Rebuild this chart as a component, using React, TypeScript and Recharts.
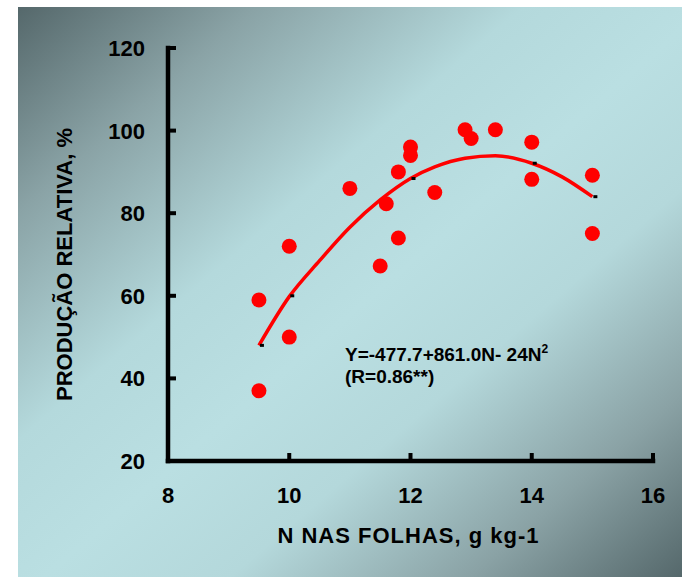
import React from 'react';
import { ComposedChart, Scatter, Line, XAxis, YAxis, Customized } from 'recharts';

// Observed points: N in leaves (g/kg) vs relative production (%)
const obsN = [9.5, 9.5, 10, 10, 11, 11.5, 11.6, 11.8, 11.8, 12, 12, 12.4, 12.9, 13, 13.4, 14, 14, 15, 15];
const obsY = [59, 37, 72, 50, 86, 67.2, 82.3, 90, 74, 96, 94, 85, 100.2, 98.1, 100.2, 97.2, 88.2, 89.2, 75.1];

// Fitted curve
const fitN = [9.5, 10, 10.5, 11, 11.5, 12, 12.4, 12.9, 13.4, 14, 14.5, 15];
const fitY = [48, 59.8, 68.5, 76.6, 83.2, 88.4, 91.2, 93.3, 93.9, 92.1, 88.8, 84];

// Small black marks left on the fitted curve
const markN = [9.5, 10, 12, 14, 15];
const markY = [48, 60, 88.4, 92.1, 84];

const xTicks = [8, 10, 12, 14, 16];
const yTicks = [20, 40, 60, 80, 100, 120];

const points = obsN.map((n, i) => ({ n, y: obsY[i] }));
const fit = fitN.map((n, i) => ({ n, y: fitY[i] }));
const marks = markN.map((n, i) => ({ n, y: markY[i] }));

const FONT = '"Liberation Sans", Arial, sans-serif';

const XTick = (props: any) => {
  const { x, y, payload } = props;
  return (
    <g>
      <line x1={x} x2={x} y1={y} y2={y - 8} stroke="#000" strokeWidth={4} />
      <text x={x} y={y + 42} textAnchor="middle" fontFamily={FONT} fontWeight="bold" fontSize={22} fill="#000">
        {payload.value}
      </text>
    </g>
  );
};

const YTick = (props: any) => {
  const { x, y, payload } = props;
  return (
    <g>
      <line x1={x} x2={x + 8} y1={y} y2={y} stroke="#000" strokeWidth={4} />
      <text x={x - 23} y={y + 8} textAnchor="end" fontFamily={FONT} fontWeight="bold" fontSize={22} fill="#000">
        {payload.value}
      </text>
    </g>
  );
};

const Dot = (props: any) => {
  const { cx, cy } = props;
  return <circle cx={cx} cy={cy} r={7.5} fill="#ff0000" />;
};

const Mark = (props: any) => {
  const { cx, cy } = props;
  return <rect x={cx + 1} y={cy - 1.5} width={4} height={3} fill="#000" />;
};

const Annotation = () => (
  <g fontFamily={FONT} fontWeight="bold" fill="#000">
    <text x={345} y={361} fontSize={19}>
      Y=-477.7+861.0N- 24N
      <tspan fontSize={12} dy={-8}>2</tspan>
    </text>
    <text x={345} y={383} fontSize={19}>(R=0.86**)</text>
  </g>
);

export default function App() {
  return (
    <div
      style={{
        position: 'absolute',
        left: 0,
        top: 0,
        width: 682,
        height: 577,
        background: '#fff',
        overflow: 'hidden',
      }}
    >
      <div
        style={{
          position: 'absolute',
          left: 18,
          top: 7,
          right: 0,
          bottom: 0,
          background:
            'linear-gradient(to bottom right, #55686b 0%, #8aa3a6 18%, #b4d9dc 38%, #badfe2 52%, #b4d8db 66%, #8aa2a5 84%, #55686b 100%)',
        }}
      />
      <div style={{ position: 'absolute', left: 0, top: 0 }}>
        <ComposedChart width={682} height={577} margin={{ top: 48, right: 29, bottom: 0, left: 0 }}>
          <XAxis
            dataKey="n"
            type="number"
            domain={[8, 16]}
            ticks={xTicks}
            allowDataOverflow
            height={116}
            tickSize={0}
            tickMargin={0}
            tickLine={false}
            tick={<XTick />}
            axisLine={{ stroke: '#000', strokeWidth: 4.5, strokeLinecap: 'square' }}
            label={{
              content: (p: any) => {
                const vb = p.viewBox || { x: 168, y: 461, width: 485, height: 116 };
                const cx = vb.x + vb.width / 2 - 2;
                const cy = vb.y + 82;
                return (
                  <text
                    x={cx}
                    y={cy}
                    textAnchor="middle"
                    fontFamily={FONT}
                    fontWeight="bold"
                    fontSize={22}
                    letterSpacing={1}
                    fill="#000"
                  >
                    N NAS FOLHAS, g kg-1
                  </text>
                );
              },
            }}
          />
          <YAxis
            dataKey="y"
            type="number"
            domain={[20, 120]}
            ticks={yTicks}
            allowDataOverflow
            width={168}
            tickSize={0}
            tickMargin={0}
            tickLine={false}
            tick={<YTick />}
            axisLine={{ stroke: '#000', strokeWidth: 4.5, strokeLinecap: 'square' }}
            label={{
              content: (p: any) => {
                const vb = p.viewBox || { x: 0, y: 48, width: 168, height: 413 };
                const cx = 72;
                const cy = vb.y + vb.height / 2 + 10;
                return (
                  <text
                    x={cx}
                    y={cy}
                    transform={`rotate(-90 ${cx} ${cy})`}
                    textAnchor="middle"
                    fontFamily={FONT}
                    fontWeight="bold"
                    fontSize={22}
                    fill="#000"
                  >
                    PRODUÇÃO RELATIVA, %
                  </text>
                );
              },
            }}
          />
          <Line
            data={fit}
            dataKey="y"
            type="monotone"
            stroke="#ff0000"
            strokeWidth={3.5}
            dot={false}
            activeDot={false}
            isAnimationActive={false}
          />
          <Scatter data={marks} dataKey="y" shape={<Mark />} isAnimationActive={false} />
          <Scatter data={points} dataKey="y" shape={<Dot />} isAnimationActive={false} />
          <Customized component={<Annotation />} />
        </ComposedChart>
      </div>
    </div>
  );
}
